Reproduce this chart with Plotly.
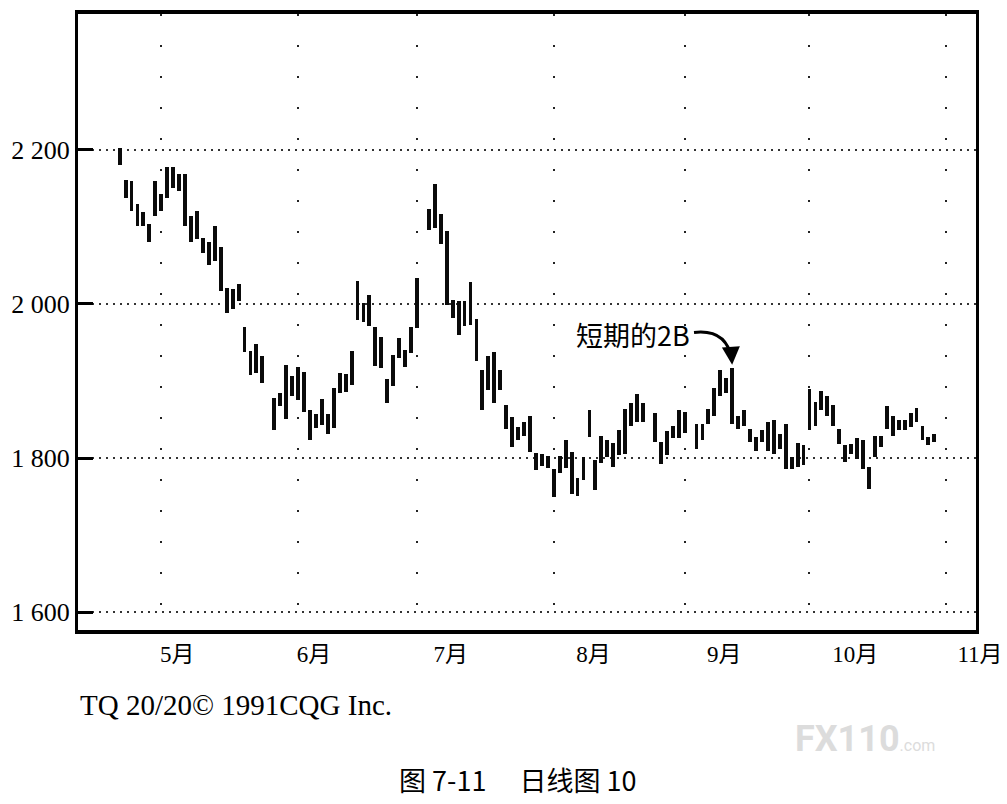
import plotly.graph_objects as go

# ---- data ----
dates_md = [
    "04-22", "04-23", "04-24", "04-25", "04-26", "04-29", "04-30",
    "05-01", "05-02", "05-03", "05-06", "05-07", "05-08", "05-09", "05-10",
    "05-13", "05-14", "05-15", "05-16", "05-17", "05-20", "05-21", "05-22",
    "05-23", "05-24", "05-28", "05-29", "05-30", "05-31",
    "06-03", "06-04", "06-05", "06-06", "06-07", "06-10", "06-11", "06-12",
    "06-13", "06-14", "06-17", "06-18", "06-19", "06-20", "06-21", "06-24",
    "06-25", "06-26", "06-27", "06-28",
    "07-01", "07-03", "07-04", "07-05", "07-08", "07-09", "07-10", "07-11",
    "07-12", "07-15", "07-16", "07-17", "07-18", "07-19", "07-22", "07-23",
    "07-24", "07-25", "07-26", "07-29", "07-30", "07-31",
    "08-01", "08-02", "08-05", "08-06", "08-07", "08-08", "08-09", "08-12",
    "08-13", "08-14", "08-15", "08-16", "08-19", "08-20", "08-21", "08-22",
    "08-26", "08-27", "08-28", "08-29", "08-30",
    "09-02", "09-04", "09-05", "09-06", "09-09", "09-10", "09-11", "09-12",
    "09-13", "09-16", "09-17", "09-18", "09-19", "09-20", "09-23", "09-24",
    "09-25", "09-26", "09-27", "09-30",
    "10-01", "10-02", "10-03", "10-04", "10-07", "10-08", "10-09", "10-10",
    "10-11", "10-14", "10-15", "10-16", "10-17", "10-18", "10-21", "10-22",
    "10-23", "10-24", "10-25", "10-28", "10-29", "10-30",
]
highs = [
    2202, 2161, 2160, 2129, 2119, 2104, 2160,
    2142, 2178, 2177, 2168, 2168, 2114, 2120, 2086,
    2080, 2101, 2074, 2020, 2019, 2026, 1970, 1939,
    1948, 1932, 1878, 1885, 1921, 1907,
    1918, 1912, 1862, 1857, 1877, 1857, 1891, 1911,
    1909, 1939, 2030, 2001, 2012, 1970, 1957, 1903,
    1934, 1956, 1940, 1970,
    2033, 2123, 2155, 2117, 2095, 2005, 2004, 2004,
    2029, 1981, 1914, 1932, 1937, 1914, 1869, 1853,
    1840, 1847, 1854, 1806, 1805, 1803,
    1786, 1803, 1824, 1808, 1774, 1801, 1863, 1797,
    1828, 1824, 1820, 1837, 1864, 1872, 1883, 1872,
    1858, 1821, 1835, 1841, 1863,
    1860, 1844, 1844, 1864, 1891, 1914, 1904, 1917,
    1855, 1863, 1838, 1827, 1836, 1847, 1849, 1831,
    1844, 1801, 1819, 1817,
    1890, 1873, 1887, 1881, 1869, 1838, 1817, 1818,
    1826, 1824, 1788, 1829, 1829, 1867, 1855, 1850,
    1849, 1859, 1865, 1841, 1827, 1831,
]
lows = [
    2180, 2137, 2120, 2101, 2101, 2080, 2114,
    2120, 2137, 2150, 2147, 2101, 2080, 2084, 2066,
    2051, 2056, 2017, 1988, 1993, 2004, 1938, 1908,
    1911, 1897, 1837, 1867, 1851, 1881,
    1875, 1860, 1824, 1839, 1843, 1831, 1839, 1885,
    1886, 1895, 1979, 1976, 1971, 1920, 1917, 1872,
    1893, 1930, 1918, 1936,
    1969, 2096, 2099, 2078, 1999, 1982, 1960, 1971,
    1973, 1926, 1862, 1888, 1871, 1888, 1838, 1815,
    1824, 1829, 1808, 1785, 1790, 1787,
    1749, 1781, 1787, 1754, 1751, 1772, 1827, 1758,
    1794, 1801, 1788, 1804, 1805, 1841, 1847, 1847,
    1821, 1792, 1804, 1826, 1826,
    1832, 1812, 1824, 1844, 1854, 1881, 1885, 1844,
    1838, 1842, 1821, 1809, 1821, 1809, 1805, 1812,
    1786, 1786, 1788, 1791,
    1836, 1842, 1863, 1855, 1842, 1818, 1795, 1805,
    1799, 1786, 1760, 1801, 1815, 1838, 1829, 1837,
    1837, 1840, 1847, 1823, 1817, 1821,
]
dates = ["1991-" + d for d in dates_md]

month_starts = ["1991-05-01", "1991-06-03", "1991-07-01", "1991-08-01",
                "1991-09-02", "1991-10-01", "1991-11-01"]
month_label_pos = ["1991-05-02", "1991-06-04", "1991-07-05", "1991-08-08",
                   "1991-09-09", "1991-10-09", "1991-11-07"]
month_labels = ["5月", "6月", "7月", "8月", "9月", "10月", "11月"]
y_ticks = [1600, 1800, 2000, 2200]
y_ticktext = ["1 600", "1 800", "2 000", "2 200"]
peak_date = "1991-09-12"
peak_high = 1917

SERIF = "Liberation Serif, 'Noto Sans CJK SC', serif"
CJK = "'Noto Sans CJK SC', sans-serif"

fig = go.Figure()
fig.add_trace(go.Bar(
    x=dates,
    y=[h - l for h, l in zip(highs, lows)],
    base=lows,
    width=0.65 * 86400000,
    marker=dict(color="#0a0a0a", line=dict(width=0)),
    showlegend=False,
    hoverinfo="skip",
))

# page body has an 8px margin: compensate so the plot frame lands where the reference has it
fig.update_layout(
    width=999, height=796,
    margin=dict(l=70, r=31, t=2, b=174),
    paper_bgcolor="white", plot_bgcolor="white",
    bargap=0,
    font=dict(family=SERIF, color="black"),
)

fig.update_xaxes(
    type="date",
    range=["1991-04-11", "1991-11-08"],
    rangebreaks=[dict(bounds=["sat", "mon"])],
    tickmode="array",
    tickvals=month_label_pos,
    ticktext=month_labels,
    ticks="",
    ticklabelshift=10,
    tickfont=dict(family=SERIF, size=23, color="black"),
    showgrid=False,
    minor=dict(tickmode="array", tickvals=month_starts, showgrid=True,
               gridcolor="#222222", gridwidth=2, griddash="2px,29px",
               ticks=""),
    showline=True, linecolor="black", linewidth=4, mirror=True,
    zeroline=False,
)
fig.update_yaxes(
    range=[1577, 2376],
    tickmode="array",
    tickvals=y_ticks,
    ticktext=y_ticktext,
    ticks="inside", ticklen=15, tickwidth=3, tickcolor="black",
    tickfont=dict(family=SERIF, size=26, color="black"),
    showgrid=True, gridcolor="#333333", gridwidth=1.5, griddash="2px,5px",
    showline=True, linecolor="black", linewidth=3, mirror=True,
    zeroline=False,
)

# annotation text and curved connector
fig.add_annotation(
    xref="paper", yref="paper", x=0.684, y=0.479,
    xanchor="right", yanchor="middle", showarrow=False,
    text="短期的2B", font=dict(family=CJK, size=27, color="black"),
)
fig.add_shape(
    type="path", xref="paper", yref="paper",
    path="M 0.686 0.483 Q 0.722 0.489 0.728 0.440",
    line=dict(color="black", width=3),
)
fig.add_annotation(
    x=peak_date, y=peak_high + 4, xref="x", yref="y",
    ax=-1, ay=-14, showarrow=True, arrowhead=2, arrowsize=1.2,
    arrowwidth=3, arrowcolor="black", text="",
)

# footer texts
fig.add_annotation(
    xref="paper", yref="paper", x=0.0, y=-0.121,
    xanchor="left", yanchor="middle", showarrow=False,
    text="TQ 20/20© 1991CQG Inc.", font=dict(family=SERIF, size=29, color="black"),
)
fig.add_annotation(
    xref="paper", yref="paper", x=0.876, y=-0.177,
    xanchor="center", yanchor="middle", showarrow=False,
    text="<b>FX110</b><span style='font-size:16px'>.com</span>",
    font=dict(family="Roboto, sans-serif", size=36, color="#dcdcdc"),
)
fig.add_annotation(
    xref="paper", yref="paper", x=0.489, y=-0.242,
    xanchor="center", yanchor="middle", showarrow=False,
    text="图 7-11　 日线图 10", font=dict(family=CJK, size=27, color="black"),
)

fig.write_html("out.html")
